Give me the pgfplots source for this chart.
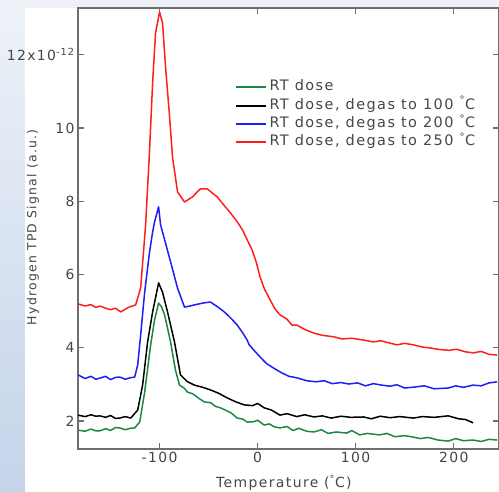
\documentclass[border=0pt]{standalone}
\usepackage{fontspec}
\setmainfont{DejaVu Sans}[LetterSpace=10]
\usepackage{pgfplots}
\pgfplotsset{compat=1.18}
\definecolor{cgreen}{RGB}{30,135,70}
\definecolor{cblue}{RGB}{30,30,245}
\definecolor{cred}{RGB}{255,30,30}
\definecolor{frame}{RGB}{110,110,110}
\definecolor{txt}{RGB}{70,70,70}
\definecolor{bgtop}{RGB}{238,242,248}
\definecolor{bgleft}{RGB}{196,212,234}
\begin{document}
\begin{tikzpicture}[x=1bp,y=1bp]
\useasboundingbox (0,0) rectangle (499,492);
\fill[bgtop] (0,0) rectangle (499,492);
\shade[top color=bgtop, bottom color=bgleft] (0,0) rectangle (25,492);
\fill[white] (25,0) rectangle (499,484);
\begin{axis}[
  at={(78bp,43bp)}, anchor=south west,
  scale only axis, width=421bp, height=441bp,
  xmin=-183.2, xmax=246.2, ymin=1.235, ymax=13.28,
  axis line style={frame, line width=1.3bp},
  every tick/.style={frame, line width=1.2bp},
  major tick length=6bp,
  xtick={-100,0,100,200}, xticklabels={-100,0,100,200},
  ytick={2,4,6,8,10,12}, yticklabels={2,4,6,8,10,{12x10\textsuperscript{-12}}},
  tick label style={font=\fontsize{14}{16}\selectfont, text=txt},
  xlabel={Temperature (\textsuperscript{\textdegree}C)},
  ylabel={Hydrogen TPD Signal (a.u.)},
  xlabel style={font=\fontsize{14}{16}\selectfont, text=txt, at={(axis description cs:0.489,-0.077)}, anchor=center},
  ylabel style={font=\fontsize{12.5}{14}\selectfont, text=txt, at={(axis description cs:-0.107,0.503)}, anchor=center},
  legend style={at={(axis description cs:0.373,0.841)}, anchor=north west, draw=none, fill=none,
    font=\fontsize{14.5}{16}\selectfont, text=txt, inner sep=0pt, row sep=0.3bp,
    nodes={inner sep=2.5bp, text height=10bp, text depth=3bp}},
  legend cell align=left,
  legend image code/.code={\draw[#1, line width=1.8bp] (-4bp,0bp) -- (26bp,0bp);},
  every axis plot/.append style={line width=1.5bp, line join=round},
]
\addplot[cgreen] coordinates {
(-183.2,1.75) (-176,1.72) (-170,1.78) (-165,1.73) (-160.9,1.73) (-155,1.79) (-150,1.74) (-145,1.82) (-140.6,1.81) (-135,1.76) (-130,1.80) (-125.4,1.81)
(-120.3,1.97) (-115.2,2.79) (-109.1,4.08) (-105.1,4.76) (-101.0,5.22) (-98,5.12) (-94.9,4.90) (-88.8,4.16) (-83.8,3.39) (-79.7,2.98)
(-75,2.90) (-71.6,2.79) (-66,2.74) (-60,2.62) (-54.3,2.52) (-48,2.50) (-43,2.40) (-38.1,2.36) (-33,2.30) (-27,2.22) (-20.8,2.08) (-15,2.05) (-10.7,1.97)
(-4,1.98) (0,2.02) (6.6,1.89) (12,1.92) (17,1.84) (22.8,1.81) (30,1.85) (36,1.74) (42,1.80) (50,1.72) (57.4,1.70) (65,1.76) (72,1.66) (80,1.70) (90.9,1.67)
(96,1.74) (104,1.62) (112,1.66) (124.4,1.62) (132,1.66) (140,1.57) (150,1.60) (158.9,1.56) (166,1.52) (174,1.55) (184,1.48) (194.4,1.45) (202,1.52) (210,1.46) (219.8,1.48) (228,1.44) (236,1.50) (244.2,1.48)
};
\addlegendentry{RT dose}
\addplot[black] coordinates {
(-183.2,2.16) (-176,2.12) (-170,2.17) (-165,2.13) (-160.9,2.14) (-155,2.10) (-150,2.15) (-145,2.07) (-140.6,2.08) (-135,2.12) (-129.4,2.08)
(-122.3,2.30) (-117.3,2.98) (-112.2,4.16) (-107.1,4.98) (-101.0,5.77) (-97.0,5.52) (-91.9,4.98) (-84.8,4.16) (-78.7,3.26)
(-72,3.08) (-64.5,2.98) (-56,2.92) (-48.2,2.85) (-40,2.76) (-31.0,2.63) (-22,2.52) (-13.7,2.44) (-5,2.42) (0,2.48) (6.6,2.36)
(14,2.30) (22.8,2.16) (30,2.20) (40,2.12) (48,2.17) (57.4,2.11) (66,2.14) (75,2.08) (85,2.13) (95,2.10) (108.1,2.11)
(116,2.06) (125,2.13) (135,2.09) (145,2.12) (158.9,2.08) (168,2.12) (180,2.10) (194.4,2.14) (205,2.06) (212,2.04) (219.8,1.95)
};
\addlegendentry{RT dose, degas to 100 \textsuperscript{\textdegree}C}
\addplot[cblue] coordinates {
(-183.2,3.26) (-176,3.16) (-170,3.22) (-165,3.14) (-160.9,3.17) (-155,3.22) (-150,3.13) (-145,3.19) (-140.6,3.20) (-135,3.14) (-130,3.18) (-125.4,3.20)
(-122.3,3.53) (-119.3,4.35) (-115.2,5.52) (-110.2,6.62) (-107.1,7.16) (-105.1,7.44) (-101.0,7.85) (-99.0,7.36) (-89.8,6.45) (-81.7,5.63) (-74.6,5.11)
(-69,5.14) (-64.5,5.17) (-56,5.22) (-48.2,5.25) (-41,5.12) (-34.0,4.98) (-27,4.80) (-20.8,4.62) (-15,4.40) (-10.7,4.21) (-8.6,4.08)
(0,3.82) (8.6,3.58) (16,3.45) (24.9,3.31) (32,3.22) (40,3.18) (50,3.10) (59.4,3.07) (68,3.10) (76,3.02) (85,3.05) (92.9,3.01)
(102,3.04) (110,2.96) (118,3.02) (126.4,2.98) (135,2.95) (142,2.99) (150,2.90) (160.9,2.93) (170,2.96) (180,2.88) (194.4,2.90)
(202,2.96) (210,2.92) (219.8,2.98) (228,2.96) (236,3.04) (244.2,3.07)
};
\addlegendentry{RT dose, degas to 200 \textsuperscript{\textdegree}C}
\addplot[cred] coordinates {
(-183.2,5.20) (-176,5.14) (-170,5.18) (-165,5.10) (-160.9,5.14) (-155,5.08) (-150,5.04) (-145,5.08) (-139.6,4.98) (-132,5.10) (-124.4,5.17)
(-119.3,5.63) (-114.2,7.36) (-110.2,9.40) (-107.1,11.23) (-104.1,12.60) (-100.0,13.17) (-97.0,12.87) (-93.9,11.67) (-89.8,10.31) (-86.8,9.21)
(-81.7,8.26) (-74.6,7.98) (-66.5,8.12) (-58.4,8.34) (-51.3,8.34) (-46,8.22) (-41.1,8.12) (-37,7.98) (-33.0,7.85) (-27,7.66) (-20.8,7.44)
(-15,7.20) (-10.7,6.95) (-5.6,6.67) (-1,6.30) (2.5,5.93) (7,5.60) (12.7,5.31) (18,5.05) (22.8,4.90) (30,4.78) (35,4.62) (40.1,4.62)
(48,4.50) (57.4,4.40) (66,4.34) (77.7,4.30) (86,4.24) (96,4.26) (108.1,4.21) (118,4.16) (126,4.19) (134.5,4.13) (142,4.08) (150,4.12)
(158.9,4.08) (168,4.02) (177.2,3.99) (186,3.95) (195,3.93) (203,3.96) (211.7,3.89) (220,3.86) (228,3.90) (236,3.82) (244.2,3.80)
};
\addlegendentry{RT dose, degas to 250 \textsuperscript{\textdegree}C}
\end{axis}
\end{tikzpicture}
\end{document}
